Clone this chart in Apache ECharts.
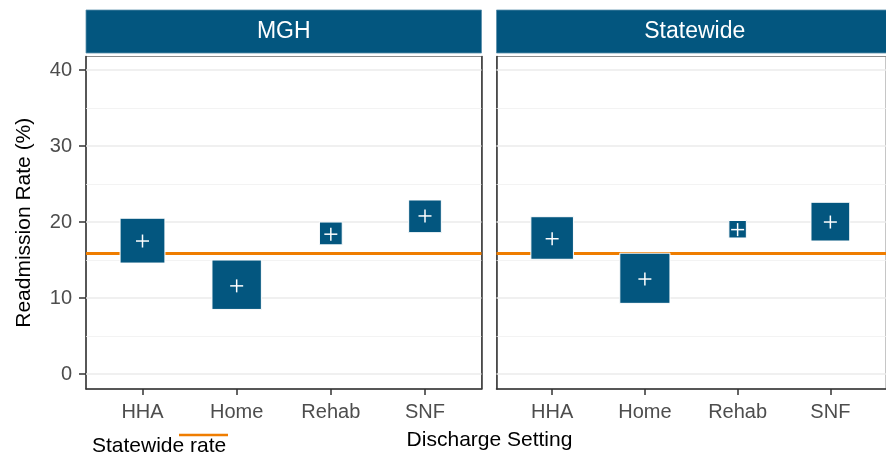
<!DOCTYPE html>
<html lang="en">
<head>
    <meta charset="utf-8">
    <title>Readmission rate by discharge setting</title>
    <style>
        html,body,#main{
            height: 100%;
            width: 100%;
            padding: 0;
            margin: 0;
            background: #fff;
        }
    </style>
</head>
<body>
    <div id="main"></div>
    <script src="https://cdn.jsdelivr.net/npm/echarts@6/dist/echarts.min.js"></script>
    <script>
        // data
        const facets = ['MGH', 'Statewide'];
        const categories = ['HHA', 'Home', 'Rehab', 'SNF'];
        const mghLower = [14.6, 8.5, 17.0, 18.6];
        const mghUpper = [20.5, 15.0, 20.0, 22.9];
        const mghRate = [17.5, 11.6, 18.4, 20.8];
        const stateLower = [15.1, 9.3, 17.9, 17.5];
        const stateUpper = [20.7, 15.9, 20.2, 22.6];
        const stateRate = [17.8, 12.5, 19.0, 20.0];
        const statewideRate = 15.9;
        const yTicks = [0, 10, 20, 30, 40];
        const yMinor = [5, 15, 25, 35];
        const xTicks = [1, 2, 3, 4];

        const blue = '#03567f';
        const orange = '#ef7d00';
        const dark = '#333333';
        const font = "'Liberation Sans', Arial, sans-serif";

        let myChart = echarts.init(document.getElementById('main'));

        function boxData(lo, hi, est) {
            return categories.map((c, i) => [i + 1, lo[i], hi[i], est[i]]);
        }

        // square box from lower to upper, white cross at the estimate
        function renderBox(params, api) {
            const x = api.value(0);
            const lo = api.coord([x, api.value(1)]);
            const hi = api.coord([x, api.value(2)]);
            const mid = api.coord([x, api.value(3)]);
            const h = lo[1] - hi[1];
            return {
                type: 'group',
                children: [
                    { type: 'rect', shape: { x: lo[0] - h / 2, y: hi[1], width: h, height: h },
                      style: { fill: blue, stroke: '#fff', lineWidth: 1 } },
                    { type: 'line', shape: { x1: mid[0] - 6.5, y1: mid[1], x2: mid[0] + 6.5, y2: mid[1] },
                      style: { stroke: '#fff', lineWidth: 1.5 } },
                    { type: 'line', shape: { x1: mid[0], y1: mid[1] - 6.5, x2: mid[0], y2: mid[1] + 6.5 },
                      style: { stroke: '#fff', lineWidth: 1.5 } }
                ]
            };
        }

        // grid lines + statewide reference line, kept under the boxes
        function gridLines(i) {
            let lines = [];
            yMinor.forEach(v => lines.push({ yAxis: v, lineStyle: { color: '#f0f0f0', width: 0.8, type: 'solid' } }));
            yTicks.forEach(v => lines.push({ yAxis: v, lineStyle: { color: '#ebebeb', width: 1.6, type: 'solid' } }));
            lines.push({ yAxis: statewideRate, lineStyle: { color: orange, width: 3, type: 'solid' } });
            return {
                type: 'line', xAxisIndex: i, yAxisIndex: i === 0 ? 0 : 2, data: [], z: 1, silent: true,
                markLine: { symbol: 'none', silent: true, z: 1, label: { show: false }, animation: false, data: lines }
            };
        }

        const yMin = -1.97, yMax = 41.78;

        function xAxis(i) {
            return {
                gridIndex: i, type: 'value', min: 0.4, max: 4.6,
                axisLine: { show: true, onZero: false, lineStyle: { color: dark, width: 1.5 } },
                axisTick: { show: true, customValues: xTicks, length: 6, lineStyle: { color: dark, width: 1.5 } },
                axisLabel: { customValues: xTicks, formatter: v => categories[v - 1], color: '#4d4d4d',
                             fontSize: 20, fontFamily: font, margin: 13 },
                splitLine: { show: false }
            };
        }

        const option = {
            animation: false,
            textStyle: { fontFamily: font },
            grid: [
                { left: 86, top: 56.5, width: 395.5, height: 332.5, show: true, borderColor: '#8c8c8c', borderWidth: 1 },
                { left: 496.5, top: 56.5, width: 396.5, height: 332.5, show: true, borderColor: '#8c8c8c', borderWidth: 1 }
            ],
            xAxis: [xAxis(0), xAxis(1)],
            yAxis: [
                {
                    gridIndex: 0, type: 'value', min: yMin, max: yMax,
                    name: 'Readmission Rate (%)', nameLocation: 'middle', nameGap: 51,
                    nameTextStyle: { color: '#000', fontSize: 21, fontFamily: font },
                    axisLine: { show: true, onZero: false, lineStyle: { color: dark, width: 1.5 } },
                    axisTick: { show: true, customValues: yTicks, length: 7, lineStyle: { color: dark, width: 1.5 } },
                    axisLabel: { customValues: yTicks, color: '#4d4d4d', fontSize: 20, fontFamily: font, margin: 14 },
                    splitLine: { show: false }
                },
                {
                    gridIndex: 0, type: 'value', position: 'right', min: yMin, max: yMax,
                    axisLine: { show: true, onZero: false, lineStyle: { color: dark, width: 1.5 } },
                    axisTick: { show: false }, axisLabel: { show: false }, splitLine: { show: false }
                },
                {
                    gridIndex: 1, type: 'value', min: yMin, max: yMax,
                    axisLine: { show: true, onZero: false, lineStyle: { color: dark, width: 1.5 } },
                    axisTick: { show: false }, axisLabel: { show: false }, splitLine: { show: false }
                }
            ],
            series: [
                gridLines(0),
                gridLines(1),
                { type: 'custom', xAxisIndex: 0, yAxisIndex: 0, z: 3, renderItem: renderBox,
                  data: boxData(mghLower, mghUpper, mghRate) },
                { type: 'custom', xAxisIndex: 1, yAxisIndex: 2, z: 3, renderItem: renderBox,
                  data: boxData(stateLower, stateUpper, stateRate) }
            ],
            graphic: [
                // facet strips
                { type: 'rect', shape: { x: 86, y: 10, width: 395.5, height: 43 },
                  style: { fill: blue, stroke: '#5b8fab', lineWidth: 0.8 } },
                { type: 'text', x: 283.75, y: 32, style: { text: facets[0], fill: '#fff', fontSize: 23,
                  fontFamily: font, align: 'center', verticalAlign: 'middle' } },
                { type: 'rect', shape: { x: 496.5, y: 10, width: 396.5, height: 43 },
                  style: { fill: blue, stroke: '#5b8fab', lineWidth: 0.8 } },
                { type: 'text', x: 694.75, y: 32, style: { text: facets[1], fill: '#fff', fontSize: 23,
                  fontFamily: font, align: 'center', verticalAlign: 'middle' } },
                // x title
                { type: 'text', x: 489.5, y: 440, style: { text: 'Discharge Setting', fill: '#000', fontSize: 21,
                  fontFamily: font, align: 'center', verticalAlign: 'middle' } },
                // legend
                { type: 'text', x: 92, y: 446, style: { text: 'Statewide rate', fill: '#000', fontSize: 21,
                  fontFamily: font, align: 'left', verticalAlign: 'middle' } },
                { type: 'line', shape: { x1: 179, y1: 435, x2: 228, y2: 435 },
                  style: { stroke: orange, lineWidth: 2.5 } }
            ]
        };

        myChart.setOption(option);
    </script>
</body>
</html>
